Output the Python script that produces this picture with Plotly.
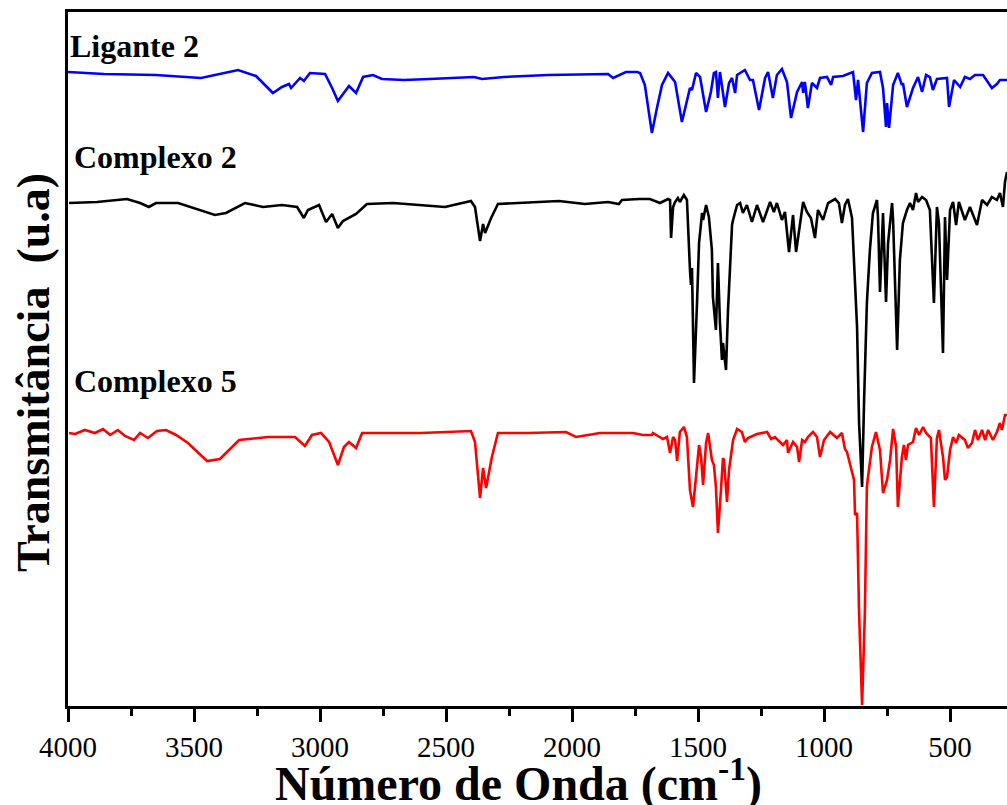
import plotly.graph_objects as go

# ---- Data (wavenumber in cm-1, transmittance in arbitrary units, offset stacked) ----
wn_ligante = [4000, 3857, 3651, 3472, 3325, 3254, 3187, 3151, 3123, 3115, 3079, 3064, 3040, 2980, 2952, 2929,
              2885, 2857, 2829, 2790, 2754, 2667, 2564, 2389, 2357, 2270, 2095, 1857, 1837, 1786, 1742, 1730,
              1711, 1683, 1663, 1643, 1619, 1591, 1564, 1544, 1532, 1524, 1508, 1492, 1468, 1449, 1437, 1429,
              1421, 1413, 1393, 1377, 1365, 1353, 1345, 1314, 1294, 1282, 1258, 1234, 1222, 1203, 1187, 1167,
              1147, 1131, 1107, 1087, 1083, 1076, 1064, 1048, 1028, 1016, 988, 972, 964, 925, 885, 873, 865,
              845, 830, 810, 778, 766, 754, 750, 742, 726, 707, 691, 687, 671, 647, 627, 611, 595, 580, 568,
              552, 512, 504, 484, 460, 441, 421, 401, 369, 334, 314, 302, 274]
t_ligante = [634, 632, 631, 628, 636, 630, 613, 619, 622, 618, 628, 625, 633, 632, 618, 605,
             620, 613, 629, 631, 627, 626, 627, 629, 627, 629, 631, 632, 628, 634, 634, 633,
             621, 573, 598, 621, 633, 624, 584, 606, 618, 616, 633, 629, 594, 614, 633, 634,
             608, 634, 599, 623, 628, 613, 631, 636, 626, 626, 596, 628, 634, 608, 631, 637,
             624, 588, 614, 624, 613, 624, 598, 623, 618, 628, 629, 621, 629, 630, 634, 606, 626,
             574, 623, 633, 634, 618, 579, 603, 578, 621, 633, 621, 623, 599, 618, 629, 614, 631, 629, 616,
             627, 628, 599, 626, 619, 629, 627, 631, 631, 618, 622, 626, 626]

wn_complexo2 = [3996, 3885, 3766, 3714, 3679, 3651, 3563, 3417, 3373, 3298, 3226, 3151, 3091, 3064, 3048, 3004,
                2976, 2952, 2929, 2909, 2857, 2814, 2710, 2504, 2401, 2385, 2365, 2353, 2345, 2321, 2294, 2052,
                1949, 1857, 1814, 1802, 1734, 1691, 1651, 1619, 1611, 1607, 1599, 1591, 1580, 1572, 1556, 1544,
                1532, 1528, 1524, 1516, 1504, 1496, 1484, 1480, 1468, 1457, 1445, 1441, 1429, 1421, 1413, 1405,
                1401, 1389, 1381, 1365, 1361, 1345, 1333, 1322, 1306, 1286, 1266, 1242, 1214, 1199, 1187, 1167,
                1155, 1139, 1123, 1111, 1083, 1068, 1052, 1036, 1024, 1004, 984, 956, 941, 929, 917, 905, 889,
                877, 869, 861, 849, 841, 830, 818, 806, 790, 786, 778, 766, 754, 746, 730, 726, 710, 699, 687,
                671, 659, 647, 635, 627, 611, 595, 580, 564, 552, 544, 528, 520, 512, 500, 488, 476, 465, 441,
                421, 393, 373, 353, 334, 314, 302, 290, 282, 274]
t_complexo2 = [503, 504, 507, 503, 499, 503, 503, 491, 493, 503, 499, 501, 499, 488, 496, 501,
               484, 492, 478, 485, 492, 502, 503, 499, 505, 499, 465, 482, 473, 488, 502, 505,
               502, 504, 502, 506, 507, 507, 503, 507, 506, 468, 499, 504, 508, 504, 511, 506,
               436, 421, 438, 323, 403, 463, 493, 486, 501, 489, 456, 409, 376, 443, 383, 346,
               363, 336, 396, 481, 486, 501, 503, 493, 501, 484, 501, 484, 504, 494, 503, 486,
               494, 454, 491, 454, 504, 494, 488, 468, 496, 486, 503, 507, 503, 483, 501, 507, 488,
               423, 379, 283, 219, 306, 403, 456, 493, 506, 489, 414, 493, 404, 463, 503, 486, 356, 446, 483,
               496, 503, 496, 513, 504, 509, 506, 496, 403, 499, 483, 353, 489, 426, 496, 504, 481, 504, 486,
               499, 481, 506, 501, 509, 506, 513, 499, 524, 534]

wn_complexo5 = [3996, 3972, 3933, 3893, 3861, 3833, 3802, 3774, 3738, 3714, 3683, 3647, 3611, 3571, 3524, 3448,
                3397, 3321, 3206, 3099, 3060, 3032, 2996, 2964, 2929, 2905, 2885, 2857, 2833, 2750, 2599, 2401,
                2385, 2365, 2353, 2341, 2318, 2294, 2175, 2024, 1984, 1889, 1810, 1758, 1718, 1683, 1679, 1639,
                1623, 1611, 1599, 1591, 1583, 1572, 1556, 1544, 1532, 1520, 1508, 1496, 1488, 1480, 1468, 1460,
                1445, 1437, 1429, 1421, 1409, 1401, 1397, 1385, 1377, 1361, 1345, 1326, 1314, 1302, 1266, 1226,
                1210, 1195, 1175, 1163, 1147, 1143, 1123, 1107, 1099, 1087, 1076, 1064, 1044, 1028, 1016, 1000,
                976, 949, 929, 917, 909, 893, 881, 877, 869, 861, 849, 838, 830, 826, 810, 794, 778, 766, 750,
                738, 726, 714, 707, 691, 683, 675, 667, 647, 635, 623, 607, 595, 576, 564, 552, 544, 528, 520,
                512, 500, 488, 476, 465, 441, 429, 413, 401, 389, 373, 361, 349, 330, 314, 302, 294, 282, 274]
t_complexo5 = [273, 272, 276, 273, 277, 271, 276, 270, 266, 273, 268, 275, 276, 271, 263, 245,
               247, 266, 269, 269, 260, 271, 273, 264, 241, 259, 264, 258, 273, 273, 273, 275,
               264, 208, 238, 218, 249, 273, 273, 274, 269, 273, 273, 273, 271, 271, 273, 267,
               269, 253, 269, 266, 245, 274, 279, 269, 216, 199, 229, 261, 249, 221, 263, 273,
               246, 241, 219, 173, 216, 248, 246, 204, 236, 266, 277, 274, 264, 268, 272, 274,
               267, 269, 264, 261, 266, 253, 264, 259, 244, 266, 264, 269, 274, 269, 249, 266,
               274, 268, 273, 257, 254, 238, 226, 191, 193, 93, 1, 93, 219, 228, 259, 274, 256, 213, 226,
               246, 277, 259, 199, 249, 261, 246, 261, 264, 278, 271, 279, 273, 268, 199, 268, 276, 249, 226,
               229, 256, 269, 263, 271, 266, 258, 263, 276, 266, 276, 266, 276, 266, 274, 283, 276, 291, 291]

series_names = ["Ligante 2", "Complexo 2", "Complexo 5"]
series_colors = ["#0000FF", "#000000", "#FF0000"]

x_tick_vals = [4000, 3500, 3000, 2500, 2000, 1500, 1000, 500]
x_tick_text = ["4000", "3500", "3000", "2500", "2000", "1500", "1000", "500"]
x_minor_vals = [3750, 3250, 2750, 2250, 1750, 1250, 750]

FONT = "Liberation Serif, Times New Roman, serif"

fig = go.Figure()
for wn, t, name, col in zip([wn_ligante, wn_complexo2, wn_complexo5],
                            [t_ligante, t_complexo2, t_complexo5],
                            series_names, series_colors):
    fig.add_trace(go.Scatter(x=wn, y=t, mode="lines", name=name,
                             line=dict(color=col, width=2.6), showlegend=False))

# series labels (paper x, data y)
label_pos = [(0.0, 660), (0.0043, 549), (0.0043, 325)]
for (lx, ly), name in zip(label_pos, series_names):
    fig.add_annotation(x=lx, y=ly, xref="paper", yref="y", text="<b>%s</b>" % name,
                       showarrow=False, xanchor="left", yanchor="middle",
                       font=dict(family=FONT, size=32, color="black"))

# axis titles as annotations
fig.add_annotation(x=0.4797, y=-0.107, xref="paper", yref="paper",
                   text="<b>Número de Onda (cm<sup>-1</sup>)</b>", showarrow=False,
                   xanchor="center", yanchor="middle",
                   font=dict(family=FONT, size=48, color="black"))
fig.add_annotation(x=-0.0375, y=0.481, xref="paper", yref="paper",
                   text="<b>Transmitância\u00a0 (u.a)</b>", showarrow=False, textangle=-90,
                   xanchor="center", yanchor="middle",
                   font=dict(family=FONT, size=46, color="black"))

fig.update_xaxes(range=[4000, 274], autorange=False,
                 tickmode="array", tickvals=x_tick_vals, ticktext=x_tick_text,
                 ticks="outside", ticklen=13, tickwidth=2.5, tickcolor="black",
                 minor=dict(ticks="outside", ticklen=7, tickwidth=2.5, tickcolor="black",
                            tickmode="array", tickvals=x_minor_vals),
                 showline=True, linewidth=3, linecolor="black", mirror=True,
                 showgrid=False, zeroline=False,
                 tickfont=dict(family=FONT, size=29, color="black"))
fig.update_yaxes(range=[0, 694], autorange=False, showticklabels=False, ticks="",
                 showline=True, linewidth=3, linecolor="black", mirror=False,
                 showgrid=False, zeroline=False)

fig.update_layout(width=1007, height=805,
                  margin=dict(l=68, r=0, t=12, b=99, pad=0),
                  paper_bgcolor="white", plot_bgcolor="white")

fig.write_html("out.html")
